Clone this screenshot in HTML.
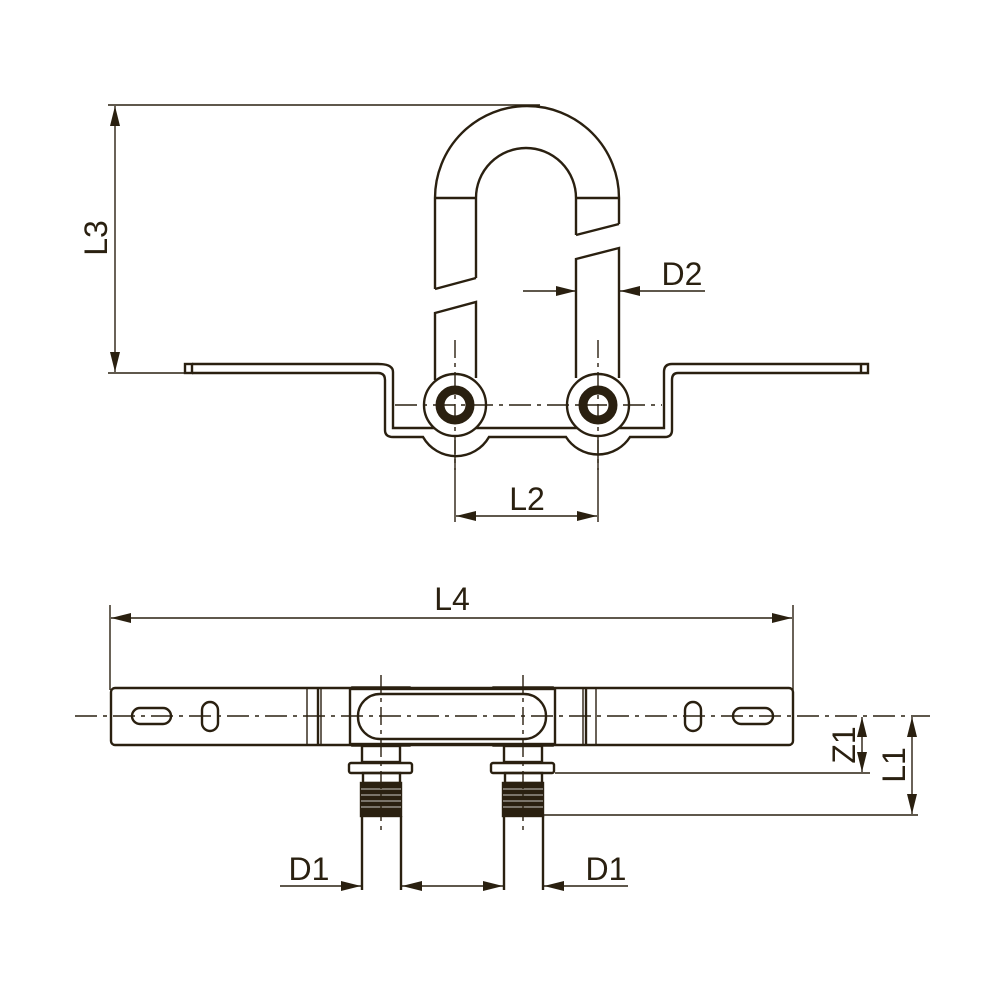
<!DOCTYPE html>
<html><head><meta charset="utf-8"><style>html,body{margin:0;padding:0;background:#fff}svg{display:block}</style></head>
<body>
<svg width="1000" height="1000" viewBox="0 0 1000 1000" xmlns="http://www.w3.org/2000/svg">
<defs>
<marker id="a" viewBox="0 0 20 10" refX="20" refY="5" markerWidth="20" markerHeight="10" markerUnits="userSpaceOnUse" orient="auto"><path d="M0,0 L20,5 L0,10 Z" fill="#2a2010"/></marker>
</defs>
<g fill="none" stroke="#2a2010" stroke-width="2.4" font-family="Liberation Sans, sans-serif">
<!-- L3 -->
<line x1="108" y1="105" x2="540" y2="105" stroke-width="1.4"/>
<line x1="108" y1="373" x2="185" y2="373" stroke-width="1.4"/>
<line x1="115" y1="240" x2="115" y2="106" stroke-width="1.4" marker-end="url(#a)"/>
<line x1="115" y1="240" x2="115" y2="372" stroke-width="1.4" marker-end="url(#a)"/>
<text x="0" y="0" transform="translate(107,238) rotate(-90)" text-anchor="middle" font-size="32" fill="#2a2010" stroke="none">L3</text>
<!-- U pipe -->
<path d="M435,289 L435,198 A92,92 0 0 1 619,198 L619,224"/>
<path d="M476,278 L476,198 A50,50 0 0 1 576,198 L576,235"/>
<line x1="435" y1="198" x2="476" y2="198"/>
<line x1="576" y1="198" x2="619" y2="198"/>
<path d="M435,289 L476,278 M576,235 L619,224"/>
<path d="M435,380 L435,313 L476,302 L476,378"/>
<path d="M576,378 L576,259 L619,248 L619,378"/>
<!-- D2 -->
<line x1="523" y1="291" x2="576" y2="291" stroke-width="1.4" marker-end="url(#a)"/>
<line x1="705" y1="291" x2="620" y2="291" stroke-width="1.4" marker-end="url(#a)"/>
<text x="682" y="285" text-anchor="middle" font-size="32" fill="#2a2010" stroke="none">D2</text>
<!-- bracket plate -->
<path d="M192,364 L378,364 Q393,364 393,372 L393,428 L664,428 L664,372 Q664,364 672,364 L868,364 L868,373 L678,373 Q672,373 672,380 L672,430 Q672,437 665,437 L630,437 A38,38 0 0 1 566,437 L489,437 A38,38 0 0 1 423,437 L393,437 Q385,437 385,430 L385,380 Q385,373 378,373 L192,373"/>
<rect x="185" y="364" width="7" height="9"/>
<line x1="861" y1="364" x2="861" y2="373"/>
<circle cx="455" cy="405" r="31" fill="#fff"/>
<circle cx="598" cy="405" r="31" fill="#fff"/>
<circle cx="455" cy="405" r="15" stroke-width="9"/>
<circle cx="598" cy="405" r="15" stroke-width="9"/>
<line x1="395" y1="405" x2="662" y2="405" stroke-width="1.4" stroke-dasharray="22,6,4,6"/>
<line x1="455" y1="340" x2="455" y2="470" stroke-width="1.4" stroke-dasharray="18,5,4,5"/>
<line x1="598" y1="340" x2="598" y2="470" stroke-width="1.4" stroke-dasharray="18,5,4,5"/>
<!-- L2 -->
<line x1="455" y1="440" x2="455" y2="522" stroke-width="1.4"/>
<line x1="598" y1="440" x2="598" y2="522" stroke-width="1.4"/>
<line x1="526" y1="516" x2="456" y2="516" stroke-width="1.4" marker-end="url(#a)"/>
<line x1="526" y1="516" x2="597" y2="516" stroke-width="1.4" marker-end="url(#a)"/>
<text x="527" y="510" text-anchor="middle" font-size="32" fill="#2a2010" stroke="none">L2</text>
<!-- L4 -->
<line x1="110" y1="605" x2="110" y2="690" stroke-width="1.4"/>
<line x1="793" y1="605" x2="793" y2="690" stroke-width="1.4"/>
<line x1="450" y1="618" x2="111" y2="618" stroke-width="1.4" marker-end="url(#a)"/>
<line x1="450" y1="618" x2="792" y2="618" stroke-width="1.4" marker-end="url(#a)"/>
<text x="452" y="610" text-anchor="middle" font-size="32" fill="#2a2010" stroke="none">L4</text>
<!-- bar -->
<rect x="111" y="688" width="682" height="57" rx="4"/>
<line x1="307" y1="688" x2="307" y2="745" stroke-width="1.4"/>
<line x1="318" y1="688" x2="318" y2="745"/>
<line x1="321" y1="688" x2="321" y2="745" stroke-width="1.4"/>
<line x1="583" y1="688" x2="583" y2="745" stroke-width="1.4"/>
<line x1="586" y1="688" x2="586" y2="745"/>
<line x1="596" y1="688" x2="596" y2="745" stroke-width="1.4"/>
<rect x="132" y="708" width="39" height="16" rx="8"/>
<rect x="202" y="702" width="16" height="29" rx="8"/>
<rect x="685" y="702" width="16" height="29" rx="8"/>
<rect x="733" y="708" width="40" height="16" rx="8"/>
<!-- center block -->
<rect x="350" y="689" width="205" height="55" fill="#fff"/>
<path d="M352,689 L352,687 L410,687 L412,689 M553,689 L553,687 L493,687 L491,689" stroke-width="1.6"/>
<path d="M352,744 L352,746 L410,746 L412,744 M553,744 L553,746 L493,746 L491,744" stroke-width="1.6"/>
<rect x="358" y="694" width="188" height="45" rx="22"/>
<line x1="75" y1="716" x2="930" y2="716" stroke-width="1.4" stroke-dasharray="22,6,4,6"/>
<!-- fittings -->
<g id="f">
<rect x="362" y="746" width="38" height="16"/>
<rect x="349" y="763" width="63" height="10" rx="2" fill="#fff"/>
<rect x="363" y="773" width="37" height="10"/>
<rect x="361" y="783" width="40" height="33" fill="#2a2010"/>
<path d="M361,789 H401 M361,795 H401 M361,801 H401 M361,807 H401" stroke="#fff" stroke-width="0.8"/>
<path d="M362,816 V890 M401,816 V890"/>
<line x1="381" y1="675" x2="381" y2="832" stroke-width="1.4" stroke-dasharray="18,5,4,5"/>
</g>
<use href="#f" transform="translate(142,0)"/>
<!-- Z1 L1 -->
<line x1="555" y1="773" x2="870" y2="773" stroke-width="1.4"/>
<line x1="543" y1="815" x2="918" y2="815" stroke-width="1.4"/>
<line x1="862" y1="745" x2="862" y2="717" stroke-width="1.4" marker-end="url(#a)"/>
<line x1="862" y1="745" x2="862" y2="772" stroke-width="1.4" marker-end="url(#a)"/>
<line x1="912" y1="765" x2="912" y2="717" stroke-width="1.4" marker-end="url(#a)"/>
<line x1="912" y1="765" x2="912" y2="814" stroke-width="1.4" marker-end="url(#a)"/>
<text x="0" y="0" transform="translate(855,745) rotate(-90)" text-anchor="middle" font-size="32" fill="#2a2010" stroke="none">Z1</text>
<text x="0" y="0" transform="translate(905,765) rotate(-90)" text-anchor="middle" font-size="32" fill="#2a2010" stroke="none">L1</text>
<!-- D1 -->
<line x1="280" y1="886" x2="361" y2="886" stroke-width="1.4" marker-end="url(#a)"/>
<line x1="452" y1="886" x2="402" y2="886" stroke-width="1.4" marker-end="url(#a)"/>
<line x1="452" y1="886" x2="503" y2="886" stroke-width="1.4" marker-end="url(#a)"/>
<line x1="628" y1="886" x2="544" y2="886" stroke-width="1.4" marker-end="url(#a)"/>
<text x="309" y="880" text-anchor="middle" font-size="32" fill="#2a2010" stroke="none">D1</text>
<text x="606" y="880" text-anchor="middle" font-size="32" fill="#2a2010" stroke="none">D1</text>
</g>
</svg>
</body></html>
